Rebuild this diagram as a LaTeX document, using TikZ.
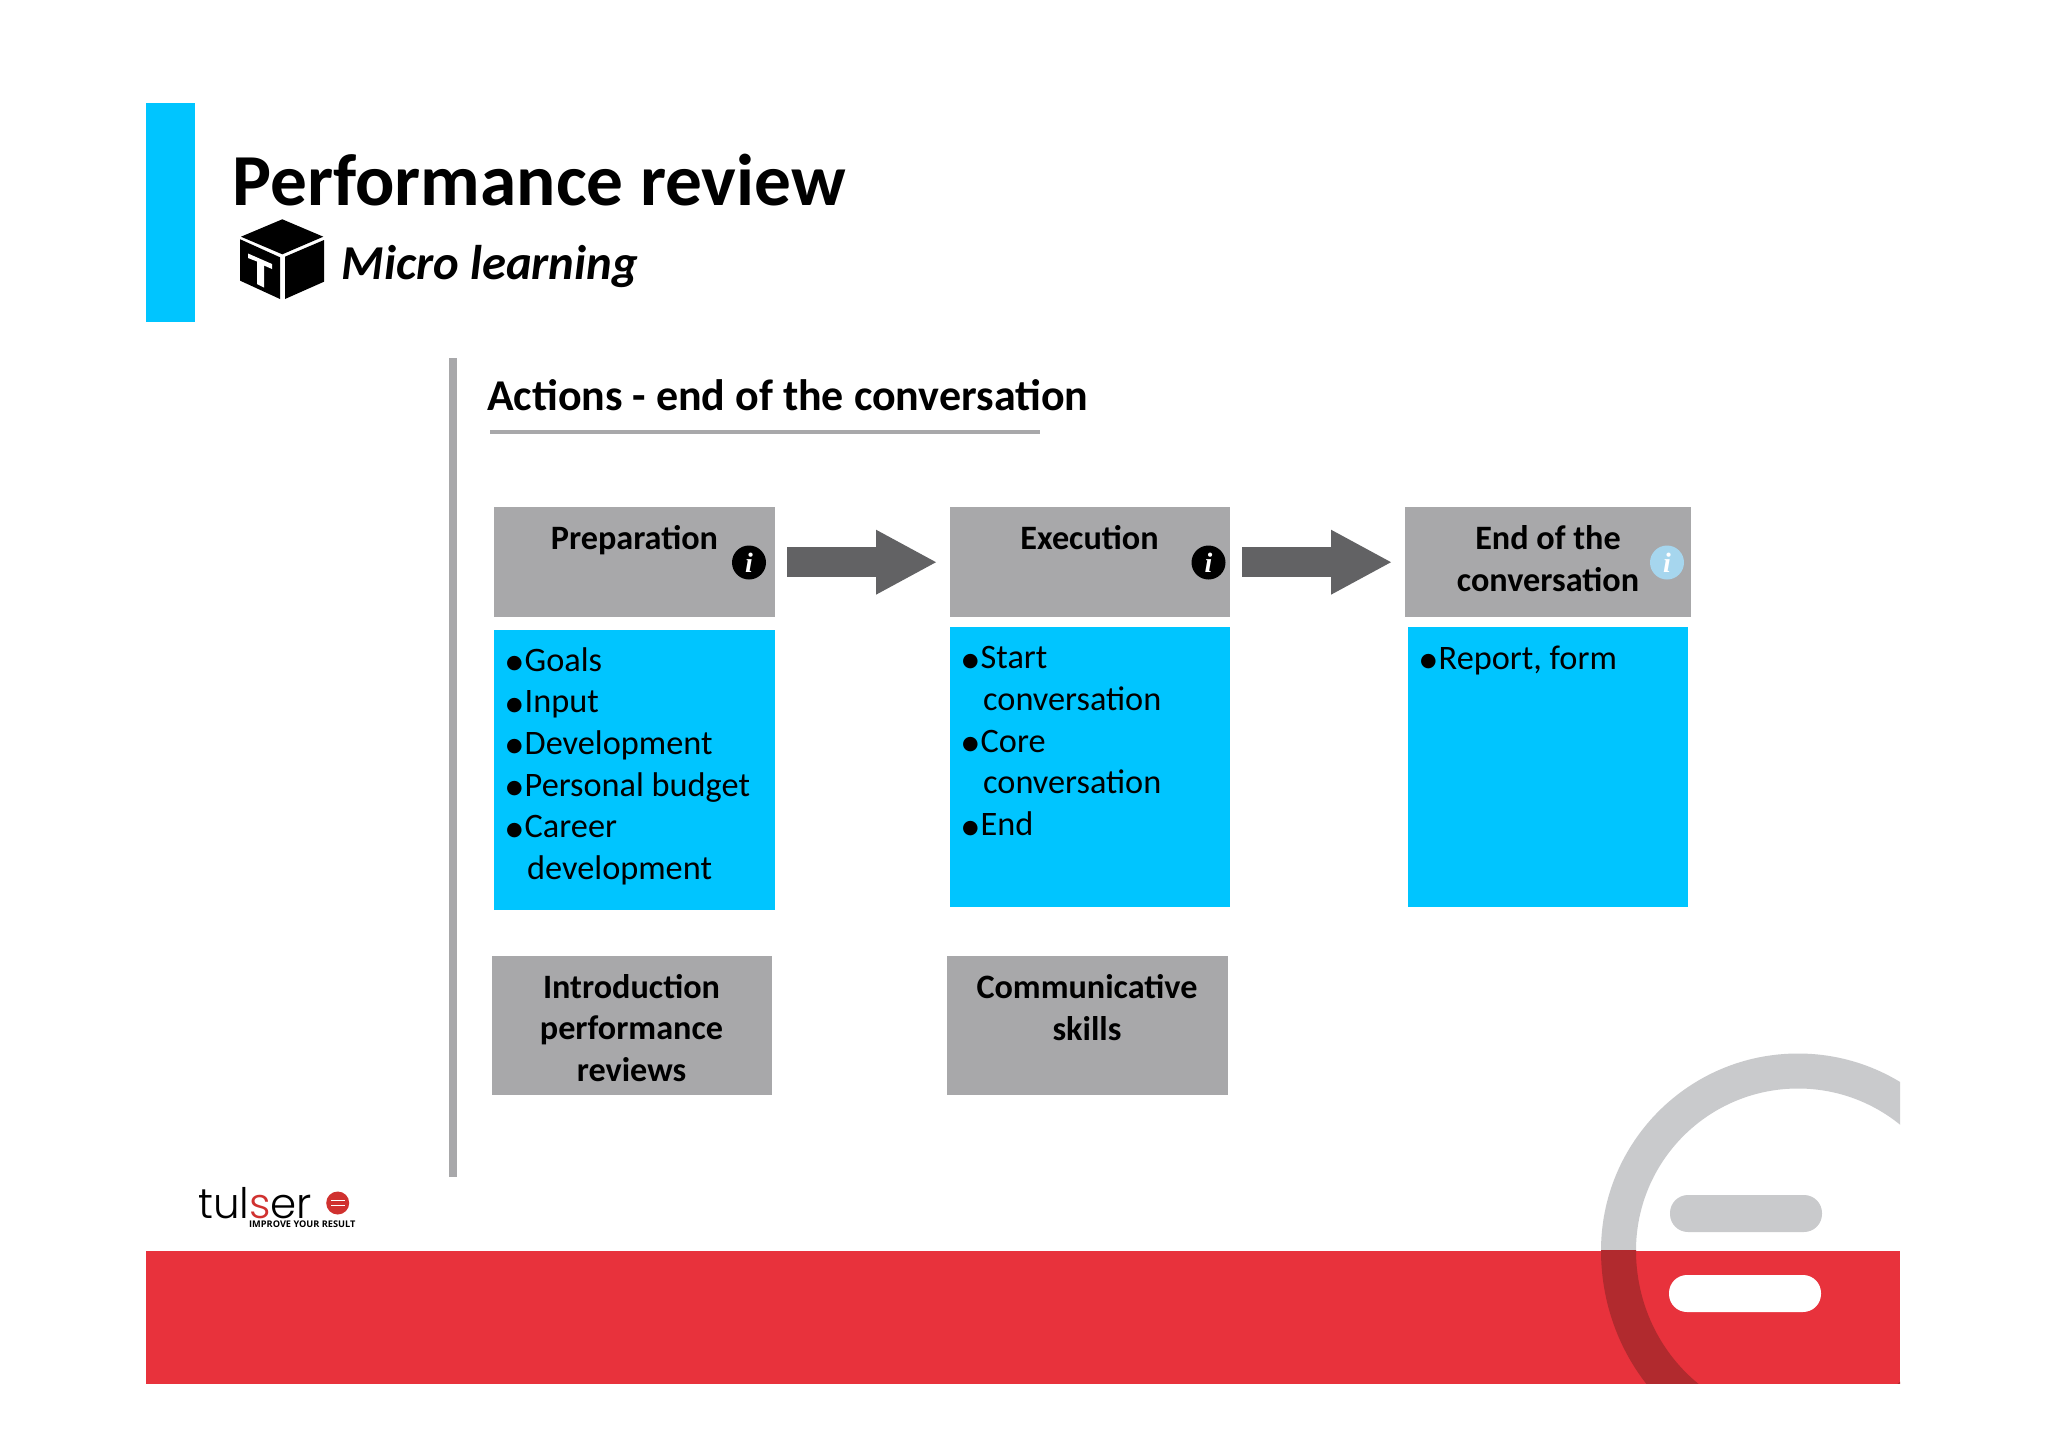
\documentclass[tikz,border=0pt]{standalone}
\usepackage{fontspec}
\usetikzlibrary{arrows.meta}
\setmainfont{Carlito}
\newfontfamily\djfont{DejaVu Sans}
\newfontfamily\logofont{Poppins Light}
\newfontfamily\tagfont{Open Sans}
\newfontfamily\infofont{Liberation Serif}
\definecolor{cyanbox}{HTML}{00C5FF}
\definecolor{greybox}{HTML}{A8A8AA}
\definecolor{arrowgrey}{HTML}{626264}
\definecolor{footred}{HTML}{E8323C}
\definecolor{ringgrey}{HTML}{C9CACC}
\definecolor{ringdark}{HTML}{B12A2E}
\definecolor{logored}{HTML}{D0312F}
\definecolor{infoblue}{HTML}{A6D6EE}
\newcommand{\bul}{\makebox[18.5pt][l]{\raisebox{2.5pt}{\fontsize{19}{19}\selectfont\djfont ●}}}
\newcommand{\bulgap}{\hspace*{21pt}}
\tikzset{
  greyrect/.style={fill=greybox,draw=none,inner sep=0,anchor=north west},
  bluerect/.style={fill=cyanbox,draw=none,inner sep=0,anchor=north west},
  headtext/.style={font=\fontsize{34.2}{41.7}\selectfont\bfseries,align=center,inner sep=0,anchor=base},
  listtext/.style={font=\fontsize{34.3}{41.7}\selectfont,align=left,inner sep=0,anchor=base west},
  infoicon/.style={circle,minimum size=34pt,inner sep=0,text=white,font=\fontsize{28}{28}\selectfont\infofont\bfseries\itshape},
  blockarrow/.style={draw=arrowgrey,line width=30pt,-{Triangle[length=60pt,width=65pt,line width=0pt,fill=arrowgrey]}},
}
\begin{document}
\begin{tikzpicture}[x=1pt,y=-1pt]
\useasboundingbox (0,0) rectangle (2048,1448);
\fill[white] (0,0) rectangle (2048,1448);
% header
\fill[cyanbox] (146,103) rectangle (195,322);
\node[anchor=base west,inner sep=0,font=\fontsize{73.3}{73.3}\selectfont\bfseries] (title) at (232.5,205) {Performance review};
\node[anchor=base west,inner sep=0,font=\fontsize{48.7}{48.7}\selectfont\bfseries\itshape] (sub) at (341.5,279.5) {Micro learning};
% cube icon
\fill[black] (282.3,219.3) -- (323.3,236.7) -- (282.3,254.3) -- (241,236.7) -- cycle;
\fill[black] (240.2,239.3) -- (280,257.3) -- (280,299) -- (240.2,280.7) -- cycle;
\fill[black] (285,256.7) -- (324,240) -- (324,281.7) -- (285,299) -- cycle;
\fill[white] (248,253.5) -- (272,264) -- (272,269) -- (264,265.5) -- (264,287.5) -- (257,284) -- (257,261.5) -- (248,258) -- cycle;
% section title
\fill[greybox] (449,358) rectangle (457,1177);
\node[anchor=base west,inner sep=0,font=\fontsize{44}{44}\selectfont\bfseries] (sect) at (487,410) {Actions - end of the conversation};
\fill[greybox] (490,430) rectangle (1040,434);
% header boxes
\node[greyrect,minimum width=281pt,minimum height=110pt] (prep) at (494,507) {};
\node[greyrect,minimum width=280pt,minimum height=110pt] (exec) at (950,507) {};
\node[greyrect,minimum width=286pt,minimum height=110pt] (endc) at (1405,507) {};
\node[headtext] (preptext) at (634.5,549.5) {Preparation};
\node[headtext] (exectext) at (1089.5,549.5) {Execution};
\node[headtext] (endtext) at (1548,591) {End of the\\conversation};
\node[infoicon,fill=black] (info1) at (749,562.5) {i};
\node[infoicon,fill=black] (info2) at (1208.5,562.5) {i};
\node[infoicon,fill=infoblue] (info3) at (1667,562.5) {i};
% arrows
\draw[blockarrow,shorten <=12pt,shorten >=14pt] (prep.east) -- (exec.west);
\draw[blockarrow,shorten <=12pt,shorten >=14pt] (exec.east) -- (endc.west);
% blue boxes
\node[bluerect,minimum width=281pt,minimum height=280pt] (prepbox) at (494,630) {};
\node[bluerect,minimum width=280pt,minimum height=280pt] (execbox) at (950,627) {};
\node[bluerect,minimum width=280pt,minimum height=280pt] (endbox) at (1408,627) {};
\node[listtext] (preplist) at (506,879.5) {\bul Goals\\\bul Input\\\bul Development\\\bul Personal budget\\\bul Career\\\bulgap development};
\node[listtext] (execlist) at (962,835.5) {\bul Start\\\bulgap conversation\\\bul Core\\\bulgap conversation\\\bul End};
\node[listtext] (endlist) at (1420,669) {\bul Report, form};
% lower boxes
\node[greyrect,minimum width=280.5pt,minimum height=139pt] (intro) at (491.3,956) {};
\node[greyrect,minimum width=280.5pt,minimum height=139pt] (comm) at (947,956) {};
\node[headtext] (introtext) at (631.5,1081.5) {Introduction\\performance\\reviews};
\node[headtext] (commtext) at (1087,1040) {Communicative\\skills};
% footer
\fill[footred] (146,1250.5) rectangle (1900,1383.5);
\begin{scope}
\clip (146,1000) rectangle (1900,1250.5);
\fill[ringgrey,even odd rule] (1798,1250.5) circle (197) (1798,1250.5) circle (162);
\end{scope}
\begin{scope}
\clip (146,1250.5) rectangle (1900,1383.5);
\fill[ringdark,even odd rule] (1798,1250.5) ellipse [x radius=197,y radius=209] (1798,1250.5) ellipse [x radius=162,y radius=169];
\end{scope}
\fill[ringgrey,rounded corners=18pt] (1670,1195) rectangle (1822,1232);
\fill[white,rounded corners=18pt] (1669,1275) rectangle (1821,1312);
% logo
\node[anchor=base west,inner sep=0,font=\fontsize{42}{42}\selectfont\logofont] (logo) at (198,1218) {tul\textcolor{logored}{s}er};
\node[anchor=base west,inner sep=0,font=\fontsize{9.2}{9.2}\selectfont\tagfont\bfseries] (tag) at (249,1227.5) {IMPROVE YOUR RESULT};
\fill[logored] (337.7,1203) circle (11.5);
\fill[white] (331,1199.5) rectangle (344.5,1201);
\fill[white] (331,1204.5) rectangle (344.5,1206);
\end{tikzpicture}
\end{document}
